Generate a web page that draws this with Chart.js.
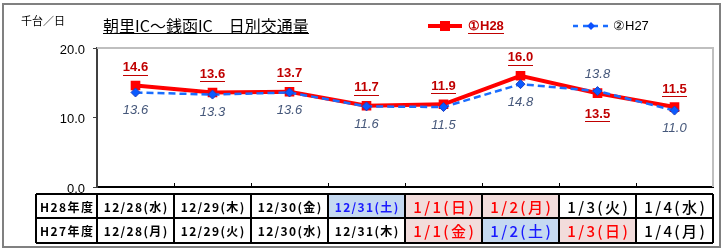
<!DOCTYPE html>
<html><head><meta charset="utf-8">
<script src="https://cdn.jsdelivr.net/npm/chart.js@4/dist/chart.umd.min.js"></script>
<style>html,body{margin:0;padding:0;background:#fff}#wrap{width:724px;height:252px;position:relative}</style>
</head><body><div id="wrap"><canvas id="c" width="724" height="252"></canvas></div>
<script>
const categories = ['12/28','12/29','12/30','12/31','1/1','1/2','1/3','1/4'];
const h28Values = [14.6, 13.6, 13.7, 11.7, 11.9, 16.0, 13.5, 11.5];
const h27Values = [13.6, 13.3, 13.6, 11.6, 11.5, 14.8, 13.8, 11.0];
const yTickValues = [0, 10, 20];
const h28LabelSide = ['above','above','above','above','above','above','below','above'];
const h27LabelSide = ['below','below','below','below','below','below','above','below'];
const rowHeaders = ['H28年度', 'H27年度'];
const h28Days = ['12/28(水)','12/29(木)','12/30(金)','12/31(土)','1/1(日)','1/2(月)','1/3(火)','1/4(水)'];
const h27Days = ['12/28(月)','12/29(火)','12/30(水)','12/31(木)','1/1(金)','1/2(土)','1/3(日)','1/4(月)'];
const h28DayKind = ['wd','wd','wd','sat','hol','hol','wd','wd'];
const h27DayKind = ['wd','wd','wd','wd','hol','sat','hol','wd'];
const titleText = '朝里IC～銭函IC　日別交通量';
const unitText = '千台／日';

const JP = '"Noto Sans CJK JP", sans-serif';
const AR = '"Liberation Sans", Arial, sans-serif';
const RED = '#ff0000', DARKRED = '#c00000', BLUE = '#1a6dff', H27LBL = '#45577a';

function drawSpaced(ctx, text, cx, cy, spacing) {
  const chars = [...text];
  const widths = chars.map(c => ctx.measureText(c).width);
  const total = widths.reduce((s, w) => s + w, 0) + spacing * (chars.length - 1);
  let x = cx - total / 2;
  ctx.textAlign = 'left'; ctx.textBaseline = 'middle';
  chars.forEach((c, i) => { ctx.fillText(c, x, cy); x += widths[i] + spacing; });
}
function underlined(ctx, text, x, y, align, color, off) {
  ctx.textAlign = align; ctx.textBaseline = 'middle';
  ctx.fillStyle = color; ctx.fillText(text, x, y);
  const w = ctx.measureText(text).width;
  const x0 = align === 'center' ? x - w / 2 : (align === 'left' ? x : x - w);
  ctx.fillRect(Math.round(x0), Math.round(y + off), Math.round(w), 1);
}

const deco = {
  id: 'deco',
  beforeDraw(chart) {
    const ctx = chart.ctx;
    ctx.save();
    ctx.fillStyle = '#fff'; ctx.fillRect(0, 0, chart.width, chart.height);
    ctx.strokeStyle = '#808080'; ctx.lineWidth = 2;
    ctx.strokeRect(3, 4, 717, 243);
    ctx.restore();
  },
  beforeDatasetsDraw(chart) {
    const { ctx, chartArea: a, scales: { x } } = chart;
    ctx.save();
    ctx.strokeStyle = '#bfbfbf'; ctx.lineWidth = 2;
    ctx.beginPath(); ctx.moveTo(a.left, a.top); ctx.lineTo(a.right, a.top); ctx.lineTo(a.right, a.bottom); ctx.stroke();
    ctx.strokeStyle = '#000'; ctx.lineWidth = 1;
    for (let i = 1; i < categories.length; i++) {
      const bx = Math.round((x.getPixelForValue(i - 1) + x.getPixelForValue(i)) / 2) + 0.5;
      ctx.beginPath(); ctx.moveTo(bx, a.bottom); ctx.lineTo(bx, a.bottom - 4); ctx.stroke();
    }
    ctx.restore();
  },
  afterDatasetsDraw(chart) {
    const ctx = chart.ctx;
    ctx.save();
    const m28 = chart.getDatasetMeta(0), m27 = chart.getDatasetMeta(1);
    ctx.font = 'bold 13px ' + AR;
    m28.data.forEach((pt, i) => {
      const y = h28LabelSide[i] === 'above' ? pt.y - 18 : pt.y + 21;
      underlined(ctx, h28Values[i].toFixed(1), pt.x, y, 'center', DARKRED, 7);
    });
    ctx.font = 'italic 13px ' + AR;
    ctx.fillStyle = H27LBL; ctx.textAlign = 'center'; ctx.textBaseline = 'middle';
    m27.data.forEach((pt, i) => {
      const y = h27LabelSide[i] === 'above' ? pt.y - 17 : pt.y + 18;
      ctx.fillText(h27Values[i].toFixed(1), pt.x, y);
    });
    ctx.restore();
  },
  afterDraw(chart) {
    const { ctx, chartArea: a, scales: { x } } = chart;
    const ds = chart.data.datasets;
    ctx.save();
    ctx.font = '11px ' + JP; ctx.fillStyle = '#000'; ctx.textAlign = 'left'; ctx.textBaseline = 'middle';
    ctx.fillText(unitText, 21, 21);
    ctx.font = '16px ' + JP;
    underlined(ctx, titleText, 103, 26, 'left', '#000', 7);
    ctx.strokeStyle = ds[0].borderColor; ctx.lineWidth = 4;
    ctx.beginPath(); ctx.moveTo(428, 26); ctx.lineTo(462, 26); ctx.stroke();
    ctx.fillStyle = ds[0].backgroundColor; ctx.fillRect(440, 21, 10, 10);
    ctx.font = 'bold 13px ' + AR;
    underlined(ctx, ds[0].label, 468, 26, 'left', DARKRED, 7);
    ctx.strokeStyle = ds[1].borderColor; ctx.lineWidth = 2.5; ctx.setLineDash([5, 5]);
    ctx.beginPath(); ctx.moveTo(573, 26); ctx.lineTo(610, 26); ctx.stroke(); ctx.setLineDash([]);
    ctx.fillStyle = ds[1].backgroundColor;
    ctx.beginPath(); ctx.moveTo(591, 22); ctx.lineTo(595, 26); ctx.lineTo(591, 30); ctx.lineTo(587, 26); ctx.closePath(); ctx.fill();
    ctx.font = '13px ' + AR; ctx.fillStyle = '#000'; ctx.textAlign = 'left'; ctx.textBaseline = 'middle';
    ctx.fillText(ds[1].label, 613, 26);
    const tLeft = 36, rows = [194, 218, 243];
    const bounds = [a.left];
    for (let i = 1; i < categories.length; i++) bounds.push((x.getPixelForValue(i - 1) + x.getPixelForValue(i)) / 2);
    bounds.push(a.right);
    const rowData = [[h28Days, h28DayKind], [h27Days, h27DayKind]];
    rowData.forEach(([days, kinds], r) => {
      const y0 = rows[r], y1 = rows[r + 1], cy = (y0 + y1) / 2 + 1;
      ctx.fillStyle = '#000'; ctx.font = 'bold 12px ' + JP;
      drawSpaced(ctx, rowHeaders[r], (tLeft + a.left) / 2, cy, 1.5);
      days.forEach((d, i) => {
        const x0 = bounds[i], x1 = bounds[i + 1];
        const k = kinds[i];
        if (k === 'sat') { ctx.fillStyle = '#c5d9f1'; ctx.fillRect(x0, y0, x1 - x0, y1 - y0); }
        if (k === 'hol') { ctx.fillStyle = '#f2dcdb'; ctx.fillRect(x0, y0, x1 - x0, y1 - y0); }
        ctx.fillStyle = k === 'sat' ? '#1a1aff' : (k === 'hol' ? '#ff0000' : '#000');
        const big = d.startsWith('1/');
        ctx.font = big ? '500 15px ' + JP : 'bold 12px ' + JP;
        drawSpaced(ctx, d, (x0 + x1) / 2, cy, big ? 2.4 : 1.35);
      });
    });
    ctx.strokeStyle = '#000'; ctx.lineWidth = 2;
    ctx.beginPath();
    rows.forEach(y => { ctx.moveTo(tLeft, y); ctx.lineTo(a.right, y); });
    [tLeft, ...bounds].forEach(bx => { ctx.moveTo(bx, rows[0]); ctx.lineTo(bx, rows[2]); });
    ctx.stroke();
    ctx.restore();
  }
};

new Chart(document.getElementById('c'), {
  type: 'line',
  data: {
    labels: categories,
    datasets: [
      { label: '①H28', data: h28Values, borderColor: RED, backgroundColor: RED, borderWidth: 4,
        pointStyle: 'rect', pointRadius: 6.8, pointBorderWidth: 0, pointBackgroundColor: RED, tension: 0, order: 1 },
      { label: '②H27', data: h27Values, borderColor: BLUE, backgroundColor: '#0a4fff', borderWidth: 2.5, borderDash: [7, 4],
        pointStyle: 'rectRot', pointRadius: 4.5, pointBorderWidth: 1, pointBorderColor: '#1f3fc0', pointBackgroundColor: '#0a5aff', tension: 0, order: 0 }
    ]
  },
  options: {
    responsive: false, animation: false, devicePixelRatio: 1,
    layout: { padding: { left: 0, right: 11, top: 48, bottom: 0 } },
    plugins: { legend: { display: false }, title: { display: false }, tooltip: { enabled: false } },
    scales: {
      x: {
        type: 'category', offset: true,
        grid: { display: false },
        ticks: { display: false },
        border: { display: true, color: '#000', width: 2 },
        afterFit: s => { s.height = 65; }
      },
      y: {
        min: 0, max: 20,
        afterBuildTicks: s => { s.ticks = yTickValues.map(v => ({ value: v })); },
        grid: { display: true, drawOnChartArea: false, drawTicks: true, tickLength: 4, color: '#404040' },
        border: { display: true, color: '#404040', width: 2 },
        ticks: { padding: 8, labelOffset: 2, color: '#000', font: { family: AR, size: 13 }, callback: v => Number(v).toFixed(1) },
        afterFit: s => { s.width = 97; }
      }
    }
  },
  plugins: [deco]
});
</script>
</body></html>
